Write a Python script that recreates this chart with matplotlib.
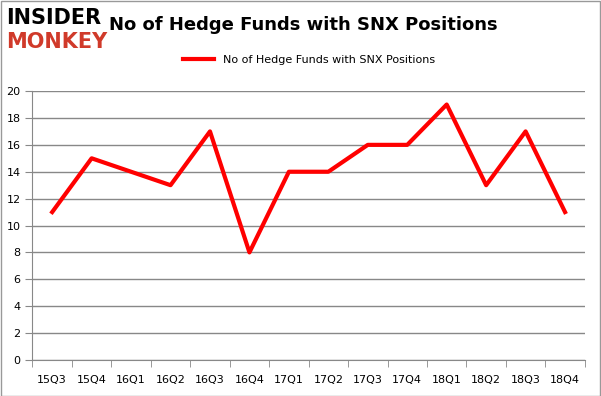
import matplotlib.pyplot as plt

quarters = ['15Q3', '15Q4', '16Q1', '16Q2', '16Q3', '16Q4', '17Q1',
            '17Q2', '17Q3', '17Q4', '18Q1', '18Q2', '18Q3', '18Q4']
funds = [11, 15, 14, 13, 17, 8, 14, 14, 16, 16, 19, 13, 17, 11]

fig = plt.figure(figsize=(6.01, 3.96), dpi=100)
ax = fig.add_axes([0.054, 0.091, 0.919, 0.679])

x = list(range(len(quarters)))
ax.plot(x, funds, color='#ff0000', linewidth=3, label='No of Hedge Funds with SNX Positions')

ax.set_xlim(-0.5, len(quarters) - 0.5)
ax.set_ylim(0, 20)
ax.set_yticks(range(0, 21, 2))
ax.set_xticks(x)
ax.set_xticklabels(quarters)
ax.set_xticks([i + 0.5 for i in range(-1, len(quarters))], minor=True)
ax.tick_params(axis='x', which='major', length=0, labelsize=8, pad=11)
ax.tick_params(axis='x', which='minor', length=5, color='#888888')
ax.tick_params(axis='y', length=5, color='#888888', labelsize=8)
ax.grid(axis='y', color='#888888', linewidth=1)
ax.set_axisbelow(True)
for s in ['top', 'right']:
    ax.spines[s].set_visible(False)
for s in ['left', 'bottom']:
    ax.spines[s].set_color('#888888')

ax.legend(loc='lower center', bbox_to_anchor=(0.5, 1.06), frameon=False,
          fontsize=8, handlelength=2.8)

fig.text(0.505, 0.937, 'No of Hedge Funds with SNX Positions', ha='center', va='center',
         fontsize=13, fontweight='bold')
fig.text(0.01, 0.955, 'INSIDER', fontsize=15, fontweight='heavy', color='black', va='center')
fig.text(0.01, 0.895, 'MONKEY', fontsize=15, fontweight='heavy', color='#d03a2a', va='center')

fig.patches.append(plt.Rectangle((0.001, 0.001), 0.997, 0.997, transform=fig.transFigure,
                                 fill=False, edgecolor='#999999', linewidth=1))

fig.savefig('out.png', dpi=100)
